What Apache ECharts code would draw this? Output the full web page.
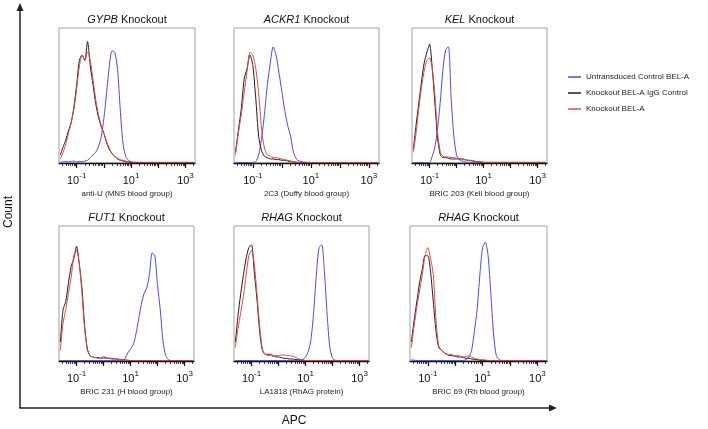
<!DOCTYPE html>
<html><head><meta charset="utf-8">
<script src="https://cdn.jsdelivr.net/npm/echarts@6/dist/echarts.min.js"></script>
<style>html,body{margin:0;padding:0;background:#fff}#c{width:708px;height:429px}</style>
</head><body><div id="c"></div>
<script>
// log10(APC) bin centres
const bins = [-1.6,-1.5,-1.4,-1.3,-1.2,-1.1,-1.0,-0.9,-0.8,-0.7,-0.6,-0.5,-0.4,-0.3,-0.2,-0.1,0.0,0.1,0.2,0.3,0.4,0.5,0.6,0.7,0.8,0.9,
              1.0,1.1,1.2,1.3,1.4,1.5,1.6,1.7,1.8,1.9,2.0,2.1,2.2,2.3,2.4,2.5,2.6,2.7,2.8,2.9,3.0,3.1,3.2,3.3];
const tickLabelExponents = [-1, 1, 3];
const seriesNames = ['Untransduced Control BEL-A', 'Knockout BEL-A IgG Control', 'Knockout BEL-A'];
const panelGenes = ['GYPB', 'ACKR1', 'KEL', 'FUT1', 'RHAG', 'RHAG'];
const panelAntibodies = ['anti-U (MNS blood group)', '2C3 (Duffy blood group)', 'BRIC 203 (Kell blood group)',
                         'BRIC 231 (H blood group)', 'LA1818 (RhAG protein)', 'BRIC 69 (Rh blood group)'];

// Panel 1: GYPB
const gypbBlue  = [1,0.8,1.2,0.8,1,1.5,0.8,1.2,1,1.5,2,4,6,8,12,19,33,52,72,83,82,70,40,15,5,2,
                   1,0.4,0.4,0.4,0.4,0.4,0.4,0.4,0.4,0.4,0.4,0.4,0.4,0.4,0.4,0.4,0.4,0.4,0.4,0.4,0.4,0.4,0.4,0.4];
const gypbBlack = [6,12,17,24,30,42,58,76,80,76,90,72,58,44,34,27,22,15,10,7,5,3,2,1.5,1,0.8,
                   0.5,0.4,0.4,0.3,0.3,0.3,0.3,0.3,0.3,0.3,0.3,0.3,0.3,0.3,0.3,0.3,0.3,0.3,0.3,0.3,0.3,0.3,0.3,0.3];
const gypbRed   = [3,8,14,22,30,40,55,72,80,76,82,76,62,47,36,28,22,16,11,7,5,3.5,2.5,2,1.5,1,
                   0.8,0.6,0.6,0.5,0.5,0.5,0.5,0.5,0.5,0.5,0.5,0.5,0.5,0.5,0.5,0.5,0.5,0.5,0.5,0.5,0.5,0.5,0.5,0.5];
// Panel 2: ACKR1
const ackr1Blue  = [0.4,0.4,0.4,0.4,0.4,0.4,0.5,1,6,18,36,58,74,86,80,67,53,39,28,20,8,3,1.5,1,0.5,0.4,
                    0.4,0.4,0.4,0.4,0.4,0.4,0.4,0.4,0.4,0.4,0.4,0.4,0.4,0.4,0.4,0.4,0.4,0.4,0.4,0.4,0.4,0.4,0.4,0.4];
const ackr1Black = [8,24,40,62,70,80,72,48,20,9,5,4,3,3,2.5,2.5,2,2,1.5,1,0.8,0.5,0.4,0.4,0.3,0.3,
                    0.3,0.3,0.3,0.3,0.3,0.3,0.3,0.3,0.3,0.3,0.3,0.3,0.3,0.3,0.3,0.3,0.3,0.3,0.3,0.3,0.3,0.3,0.3,0.3];
const ackr1Red   = [6,22,36,52,68,82,80,70,52,25,11,6,5,4,4,3.5,3,2.5,2,1.5,1,0.6,0.5,0.5,0.5,0.5,
                    0.4,0.4,0.4,0.4,0.4,0.4,0.4,0.4,0.4,0.4,0.4,0.4,0.4,0.4,0.4,0.4,0.4,0.4,0.4,0.4,0.4,0.4,0.4,0.4];
// Panel 3: KEL
const kelBlue  = [0.4,0.4,0.4,0.4,0.4,0.4,0.4,5,12,26,46,70,84,86,48,20,6,2.5,1.5,1,0.5,0.5,0.5,0.5,0.5,0.5,
                  0.4,0.4,0.4,0.4,0.4,0.4,0.4,0.4,0.4,0.4,0.4,0.4,0.4,0.4,0.4,0.4,0.4,0.4,0.4,0.4,0.4,0.4,0.4,0.4];
const kelBlack = [10,28,44,60,74,82,88,70,44,18,6,4,4,3.5,3,3,3,3,3,2.5,2,2,1.5,1.2,1,0.8,
                  0.4,0.4,0.4,0.4,0.4,0.4,0.4,0.4,0.4,0.4,0.4,0.4,0.4,0.4,0.4,0.4,0.4,0.4,0.4,0.4,0.4,0.4,0.4,0.4];
const kelRed   = [8,22,40,56,68,76,78,70,50,22,8,5,4.5,4.5,4,4,3.5,3.5,3,2.5,2,1.8,1.5,1.2,1,0.8,
                  0.5,0.5,0.5,0.5,0.5,0.5,0.5,0.5,0.5,0.5,0.5,0.5,0.5,0.5,0.5,0.5,0.5,0.5,0.5,0.5,0.5,0.5,0.5,0.5];
// Panel 4: FUT1
const fut1Blue  = [0.3,0.3,0.3,0.3,0.3,0.3,0.3,0.3,0.3,0.3,0.3,0.3,0.3,0.3,0.3,0.3,0.3,0.3,0.3,0.3,0.3,0.3,0.3,0.3,2,6,
                   9,12,20,31,42,50,54,64,80,78,56,38,15,4,1,0.3,0.3,0.3,0.3,0.3,0.3,0.3,0.3,0.3];
const fut1Black = [14,38,44,58,70,76,85,72,54,26,9,4,3,2.5,2.5,2,3,2.5,2,2,1.5,1.5,1.2,1,0.8,0.5,
                   0.3,0.3,0.3,0.3,0.3,0.3,0.3,0.3,0.3,0.3,0.3,0.3,0.3,0.3,0.3,0.3,0.3,0.3,0.3,0.3,0.3,0.3,0.3,0.3];
const fut1Red   = [8,28,38,50,62,78,82,72,50,24,8,4,3,2.5,2,2,2,2,1.8,1.5,1.5,1.2,1,1,0.8,0.5,
                   0.4,0.4,0.4,0.4,0.4,0.4,0.4,0.4,0.4,0.4,0.4,0.4,0.4,0.4,0.4,0.4,0.4,0.4,0.4,0.4,0.4,0.4,0.4,0.4];
// Panel 5: RHAG (LA1818)
const rhagBlue  = [0.4,0.4,0.4,0.4,0.4,0.4,0.4,0.4,0.4,0.4,0.4,0.4,0.4,0.4,0.4,0.4,0.4,0.4,0.4,0.4,0.4,0.4,0.4,0.4,0.4,1,
                   3,7,16,36,64,84,86,66,34,10,2,0.5,0.3,0.3,0.3,0.3,0.3,0.3,0.3,0.3,0.3,0.3,0.3,0.3];
const rhagBlack = [14,34,50,64,76,84,86,66,46,22,8,5,5,5,4,3,3,2.5,2,2,1.5,1.5,1.2,1,1,0.6,
                   0.4,0.4,0.4,0.4,0.4,0.4,0.4,0.4,0.4,0.4,0.4,0.4,0.4,0.4,0.4,0.4,0.4,0.4,0.4,0.4,0.4,0.4,0.4,0.4];
const rhagRed   = [10,24,36,48,64,78,82,72,50,26,9,5,4,4,3.5,4,4,4.5,4.5,4,4,3.5,3,2,1.2,0.8,
                   0.4,0.4,0.4,0.4,0.4,0.4,0.4,0.4,0.4,0.4,0.4,0.4,0.4,0.4,0.4,0.4,0.4,0.4,0.4,0.4,0.4,0.4,0.4,0.4];
// Panel 6: RHAG (BRIC 69)
const rhBlue  = [1,0.6,0.4,0.4,0.4,0.4,0.4,0.4,0.4,0.4,0.4,0.4,0.4,0.4,0.4,0.4,0.4,0.4,0.4,0.4,1,3,8,22,38,64,
                 84,88,78,50,20,4,1,0.3,0.3,0.3,0.3,0.3,0.3,0.3,0.3,0.3,0.3,0.3,0.3,0.3,0.3,0.3,0.3,0.3];
const rhBlack = [14,30,44,58,68,78,78,66,44,22,10,8,6,5,4,4,3.5,3,3,2.5,2,2,1.5,1.2,1,0.6,
                 0.4,0.4,0.4,0.4,0.4,0.4,0.4,0.4,0.4,0.4,0.4,0.4,0.4,0.4,0.4,0.4,0.4,0.4,0.4,0.4,0.4,0.4,0.4,0.4];
const rhRed   = [10,26,40,52,64,78,84,76,64,30,11,8,6,5,5,4.5,4,4,3.5,3,3.5,4,3,2,1.5,1.2,
                 1,0.8,0.4,0.4,0.4,0.4,0.4,0.4,0.4,0.4,0.4,0.4,0.4,0.4,0.4,0.4,0.4,0.4,0.4,0.4,0.4,0.4,0.4,0.4];

const panelData = [
  [gypbBlue, gypbBlack, gypbRed],
  [ackr1Blue, ackr1Black, ackr1Red],
  [kelBlue, kelBlack, kelRed],
  [fut1Blue, fut1Black, fut1Red],
  [rhagBlue, rhagBlack, rhagRed],
  [rhBlue, rhBlack, rhRed]
];

// layout (pixels)
const grids = [
  {left: 59, top: 28, width: 136, height: 135},
  {left: 234, top: 28, width: 145, height: 135},
  {left: 412, top: 28, width: 135, height: 135},
  {left: 59, top: 226, width: 135, height: 135},
  {left: 234, top: 226, width: 135, height: 135},
  {left: 410, top: 226, width: 137, height: 135}
];
const colors = ['#4a4ad8', '#1c1c1c', '#e0474c'];
const FONT = '"Liberation Sans", Arial, Helvetica, sans-serif';
const X_MIN = -1.65, X_MAX = 3.35;

const majorTicks = [];
const minorTicks = [];
for (let n = -2; n <= 3; n++) {
  if (n >= X_MIN && n <= X_MAX) majorTicks.push(n);
  for (let k = 2; k <= 9; k++) {
    const v = n + Math.log10(k);
    if (v >= X_MIN && v <= X_MAX) minorTicks.push(v);
  }
}

const option = {
  animation: false,
  textStyle: {fontFamily: FONT},
  grid: grids.map(g => ({left: g.left, top: g.top, width: g.width, height: g.height,
        show: true, borderColor: '#a0a0a0', borderWidth: 1, backgroundColor: 'transparent'})),
  xAxis: [],
  yAxis: [],
  series: [],
  legend: {
    orient: 'vertical', left: 563, top: 68, itemGap: 8,
    itemWidth: 13, itemHeight: 1.5, icon: 'rect',
    data: seriesNames,
    textStyle: {fontSize: 8, color: '#222', fontFamily: FONT}
  },
  graphic: []
};

grids.forEach((g, i) => {
  option.xAxis.push({
    gridIndex: i, type: 'value', min: X_MIN, max: X_MAX, position: 'bottom',
    name: panelAntibodies[i], nameLocation: 'middle', nameGap: 27,
    nameTextStyle: {fontSize: 8, color: '#222', fontFamily: FONT},
    axisLine: {show: true, lineStyle: {color: '#111', width: 1.3}},
    axisTick: {show: true, customValues: majorTicks, length: 5, lineStyle: {color: '#111', width: 1.2}},
    axisLabel: {show: true, customValues: tickLabelExponents, margin: 9, color: '#111',
      formatter: v => '{b|10}{s|' + v + '}',
      rich: {b: {fontSize: 11, fontFamily: FONT, color: '#111', verticalAlign: 'bottom'},
             s: {fontSize: 8, fontFamily: FONT, color: '#111', verticalAlign: 'top', padding: [0,0,6,0]}}},
    splitLine: {show: false}
  });
  option.xAxis.push({
    gridIndex: i, type: 'value', min: X_MIN, max: X_MAX, position: 'bottom',
    axisLine: {show: false},
    axisTick: {show: true, customValues: minorTicks, length: 3, lineStyle: {color: '#111', width: 0.8}},
    axisLabel: {show: false}, splitLine: {show: false}
  });
  option.yAxis.push({gridIndex: i, type: 'value', min: 0, max: 100, show: false});
  panelData[i].forEach((vals, s) => {
    option.series.push({
      name: seriesNames[s], type: 'line', xAxisIndex: i * 2, yAxisIndex: i,
      data: bins.map((b, j) => [b, vals[j]]),
      showSymbol: false, symbol: 'none', smooth: 0.25,
      lineStyle: {color: colors[s], width: 1}, itemStyle: {color: colors[s]}, z: 3 + s
    });
  });
  option.graphic.push({
    type: 'text', x: g.left + g.width / 2, y: g.top - 8,
    style: {text: '{i|' + panelGenes[i] + '} Knockout', align: 'center', verticalAlign: 'middle',
      fill: '#111', font: '11px ' + FONT,
      rich: {i: {fontStyle: 'italic', fontSize: 11, fontFamily: FONT, fill: '#111'}}}
  });
});

// outer Count / APC axes with arrows
const AX = 20, AY = 408;
option.graphic.push(
  {type: 'line', shape: {x1: AX, y1: 9, x2: AX, y2: AY}, style: {stroke: '#222', lineWidth: 1.5}},
  {type: 'polygon', shape: {points: [[AX, 3], [AX - 3.5, 11], [AX + 3.5, 11]]}, style: {fill: '#222'}},
  {type: 'line', shape: {x1: AX - 0.75, y1: AY, x2: 550, y2: AY}, style: {stroke: '#222', lineWidth: 1.5}},
  {type: 'polygon', shape: {points: [[557, AY], [549, AY - 3.5], [549, AY + 3.5]]}, style: {fill: '#222'}},
  {type: 'text', x: 9, y: 212, rotation: Math.PI / 2,
   style: {text: 'Count', align: 'center', verticalAlign: 'middle', font: '12px ' + FONT, fill: '#111'}},
  {type: 'text', x: 294, y: 421,
   style: {text: 'APC', align: 'center', verticalAlign: 'middle', font: '12px ' + FONT, fill: '#111'}}
);

const chart = echarts.init(document.getElementById('c'), null, {renderer: 'canvas'});
chart.setOption(option);
</script>
</body></html>
